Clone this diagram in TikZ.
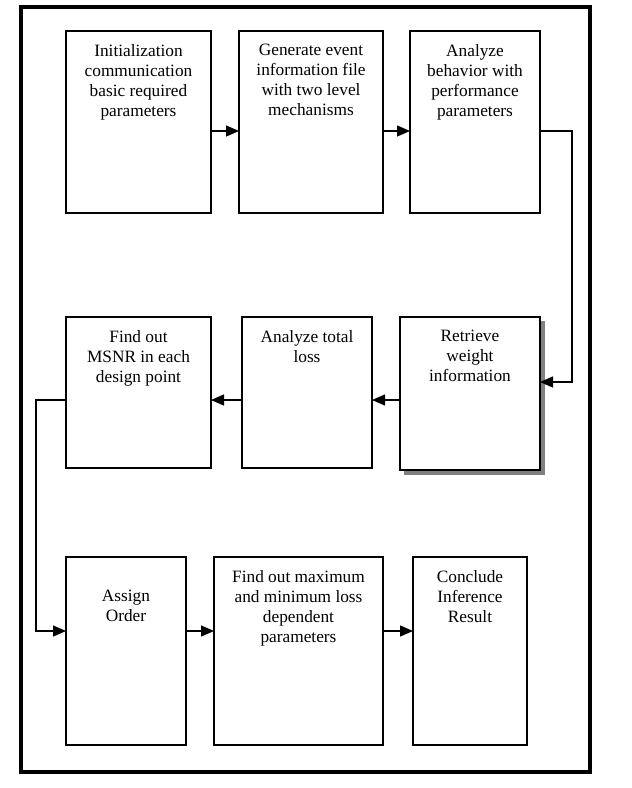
\documentclass[tikz,border=0pt]{standalone}
\usepackage{fontspec}
\setmainfont{Liberation Serif}
\usetikzlibrary{arrows.meta,calc}
\tikzset{
  box/.style={draw, line width=1.8pt, rectangle, inner sep=0pt, outer sep=0pt, fill=white},
  lbl/.style={anchor=north, inner sep=0pt, align=center, font=\fontsize{17.3}{20}\selectfont},
  conn/.style={line width=1.3pt},
  arr/.style={conn, -{Triangle[length=13pt,width=11pt]}},
  frame/.style={line width=3.6pt},
  shade/.style={fill=black!50, draw=none},
}
\begin{document}
\begin{tikzpicture}[x=1pt,y=-1pt]
\useasboundingbox (0,0) rectangle (632,788);
\draw[frame] (21,7) rectangle (590,772);

% row coordinates
\coordinate (r1) at (0,131);
\coordinate (r6) at (0,382);
\coordinate (r2) at (0,400);
\coordinate (r3) at (0,631);
\coordinate (xr) at (572,0);
\coordinate (xl) at (36,0);

% row 1
\node[box, minimum width=145pt, minimum height=182pt] (b1) at (138.5,122) {};
\node[box, minimum width=144pt, minimum height=182pt] (b2) at (311,122) {};
\node[box, minimum width=130pt, minimum height=182pt] (b3) at (475,122) {};
% row 2
\node[box, minimum width=145pt, minimum height=151pt] (b4) at (138.5,392.5) {};
\node[box, minimum width=130pt, minimum height=151pt] (b5) at (307,392.5) {};
\fill[shade] (404,321) rectangle (545,475);
\node[box, minimum width=140pt, minimum height=153pt] (b6) at (470,393.5) {};
% row 3
\node[box, minimum width=120pt, minimum height=188pt] (b7) at (126,651) {};
\node[box, minimum width=169pt, minimum height=188pt] (b8) at (298.5,651) {};
\node[box, minimum width=114pt, minimum height=188pt] (b9) at (470,651) {};

% labels
\node[lbl] (t1) at ($(b1.north)+(0,13)$) {Initialization\\communication\\basic required\\parameters};
\node[lbl] (t2) at ($(b2.north)+(0,13)$) {Generate event\\information file\\with two level\\mechanisms};
\node[lbl] (t3) at ($(b3.north)+(0,13)$) {Analyze\\behavior with\\performance\\parameters};
\node[lbl] (t4) at ($(b4.north)+(0,13)$) {Find out\\MSNR in each\\design point};
\node[lbl] (t5) at ($(b5.north)+(0,13)$) {Analyze total\\loss};
\node[lbl] (t6) at ($(b6.north)+(0,13)$) {Retrieve\\weight\\information};
\node[lbl] (t7) at ($(b7.north)+(0,33)$) {Assign\\Order};
\node[lbl] (t8) at ($(b8.north)+(0,13)$) {Find out maximum\\and minimum loss\\dependent\\parameters};
\node[lbl] (t9) at ($(b9.north)+(0,13)$) {Conclude\\Inference\\Result};

% connectors
\draw[arr] (b1.east |- r1) -- (b2.west |- r1);
\draw[arr] (b2.east |- r1) -- (b3.west |- r1);
\draw[arr] (b3.east |- r1) -- (xr |- r1) -- (xr |- r6) -- (b6.east |- r6);
\draw[arr] (b6.west |- r2) -- (b5.east |- r2);
\draw[arr] (b5.west |- r2) -- (b4.east |- r2);
\draw[arr] (b4.west |- r2) -- (xl |- r2) -- (xl |- r3) -- (b7.west |- r3);
\draw[arr] (b7.east |- r3) -- (b8.west |- r3);
\draw[arr] (b8.east |- r3) -- (b9.west |- r3);
\end{tikzpicture}
\end{document}
